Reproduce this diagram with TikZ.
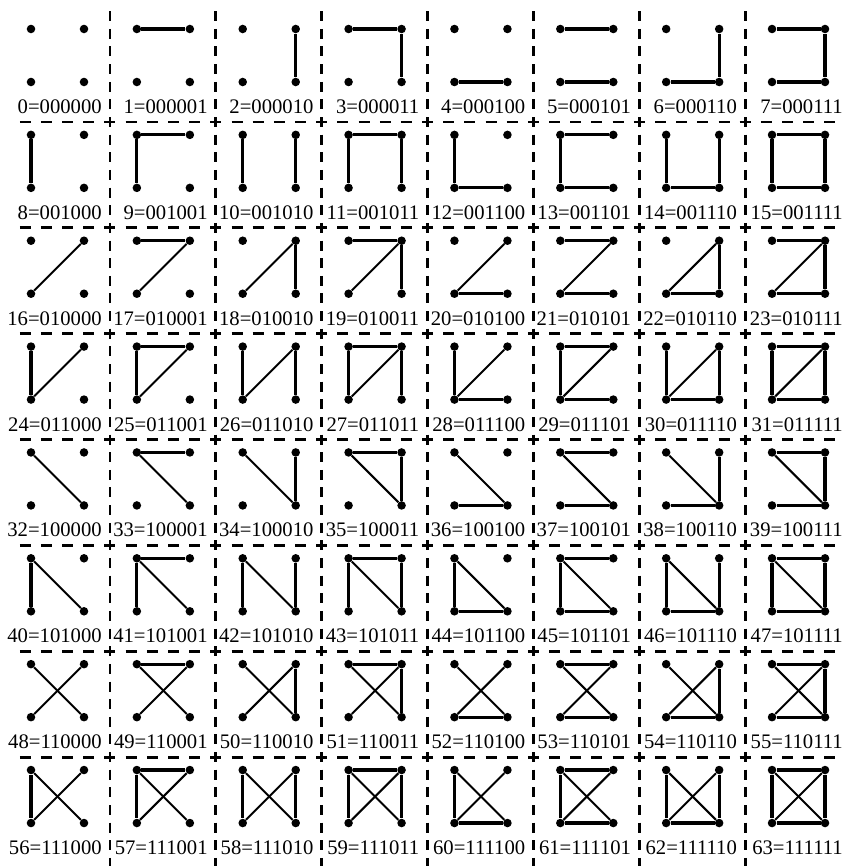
\documentclass[tikz,border=0pt]{standalone}
\usepackage{fontspec}
\setmainfont{Liberation Serif}
\begin{document}
\begin{tikzpicture}[
 x=.75pt,y=-.75pt,
 side/.style={line width=2.4pt},
 diag/.style={line width=1.5pt},
 vertex/.style={circle,fill,inner sep=0pt,minimum size=6.4pt},
 vsep/.style={line width=2.2pt,dash pattern=on 7.5pt off 5.73pt},
 hsep/.style={line width=2.2pt,dash pattern=on 8.25pt off 7.63pt},
 label/.style={anchor=base east,inner sep=0pt},
 every node/.style={font=\fontsize{15.5}{18}\selectfont}]
 \useasboundingbox (0,0) rectangle (846,866);
 % Dashed separators between the cells.
 \foreach \k in {0,...,6}{
  \coordinate (vt\k) at (110+105.86*\k,11.2); \coordinate (vb\k) at (110+105.86*\k,866);
  \draw[vsep] (vt\k)--(vb\k);
  \coordinate (hl\k) at (19.8,122+105.86*\k); \coordinate (hr\k) at (835.4,122+105.86*\k);
  \draw[hsep] (hl\k)--(hr\k);
 }
 % One graph on four vertices per number, bit i = edge i.
 \foreach \n in {0,...,63}{
  \pgfmathtruncatemacro\gcol{mod(\n,8)}
  \pgfmathtruncatemacro\grow{floor(\n/8)}
  \pgfmathtruncatemacro\bA{mod(\n,2)}
  \pgfmathtruncatemacro\bB{mod(floor(\n/2),2)}
  \pgfmathtruncatemacro\bC{mod(floor(\n/4),2)}
  \pgfmathtruncatemacro\bD{mod(floor(\n/8),2)}
  \pgfmathtruncatemacro\bE{mod(floor(\n/16),2)}
  \pgfmathtruncatemacro\bF{mod(floor(\n/32),2)}
  \begin{scope}[shift={(105.86*\gcol,105.86*\grow)}]
   \node[vertex] (tl\n) at (31,29){}; \node[vertex] (tr\n) at (84,29){};
   \node[vertex] (bl\n) at (31,82){}; \node[vertex] (br\n) at (84,82){};
   \ifnum\bA=1 \draw[side] (tl\n)--(tr\n); \fi
   \ifnum\bB=1 \draw[side] (tr\n)--(br\n); \fi
   \ifnum\bC=1 \draw[side] (bl\n)--(br\n); \fi
   \ifnum\bD=1 \draw[side] (tl\n)--(bl\n); \fi
   \ifnum\bE=1 \draw[diag] (bl\n)--(tr\n); \fi
   \ifnum\bF=1 \draw[diag] (tl\n)--(br\n); \fi
   \node[label] (lab\n) at (102,113.5){\n=\bF\bE\bD\bC\bB\bA};
  \end{scope}
 }
\end{tikzpicture}
\end{document}
